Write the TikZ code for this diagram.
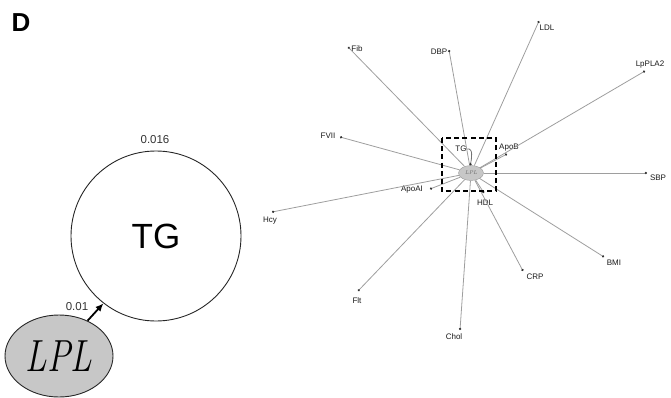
\documentclass[tikz,border=0pt]{standalone}
\usepackage{fontspec}
\newfontfamily\lsans{Liberation Sans}
\usetikzlibrary{shapes.geometric,arrows.meta}
\begin{document}
\begin{tikzpicture}[x=1pt,y=-1pt,
  edge/.style={draw=black!38, line width=0.8pt, -{Circle[length=2.2pt,color=black!80]}},
  lab/.style={font=\lsans\fontsize{8}{8}\selectfont, text=black!90, inner sep=0.5pt},
  bignum/.style={font=\lsans\fontsize{11.5}{12}\selectfont, text=black!80, inner sep=0pt}
]
\useasboundingbox (0,0) rectangle (671,398);
% panel letter
\node[font=\lsans\bfseries\fontsize{26}{26}\selectfont, inner sep=0pt] (D) at (21,23) {D};
% left: LPL -> TG
\node[circle, draw=black!85, line width=0.9pt, minimum size=170pt, inner sep=0pt,
      font=\lsans\fontsize{35}{35}\selectfont] (bigTG) at (156,236) {TG};
\node[ellipse, draw=black!85, line width=0.9pt, fill=black!22, minimum width=108pt,
      minimum height=82pt, inner sep=0pt] (bigLPL) at (59,356)
      {\scalebox{0.78}[1]{\fontsize{45}{45}\selectfont\itshape LPL}};
\draw[line width=1.8pt, -{Latex[length=8pt,width=7pt]}] (bigLPL.51) -- (bigTG.232);
\node[bignum] (n016) at (155,140) {0.016};
\node[bignum] (n01) at (77,307) {0.01};
% right: network
\node[ellipse, draw=black!40, fill=black!22, minimum width=25pt, minimum height=15pt,
      inner sep=0pt, font=\fontsize{5.5}{5.5}\selectfont\itshape, text=black!60] (lpl) at (471,173) {LPL};
\coordinate (eFib) at (348,47);    \node[lab] (Fib) at (357,49) {Fib};
\coordinate (eDBP) at (449,50);    \node[lab] (DBP) at (439,52) {DBP};
\coordinate (eLDL) at (539,21);    \node[lab] (LDL) at (547,28) {LDL};
\coordinate (eLp)  at (645,71);    \node[lab] (LpPLA2) at (650,65) {LpPLA2};
\coordinate (eSBP) at (647,173);   \node[lab] (SBP) at (658,178) {SBP};
\coordinate (eBMI) at (604,257);   \node[lab] (BMI) at (614,263) {BMI};
\coordinate (eCRP) at (523,271);   \node[lab] (CRP) at (535,277) {CRP};
\coordinate (eChol) at (460,330);  \node[lab] (Chol) at (454,337) {Chol};
\coordinate (eFlt) at (358,291);   \node[lab] (Flt) at (357,301) {Flt};
\coordinate (eHcy) at (272,212);   \node[lab] (Hcy) at (270,221) {Hcy};
\coordinate (eFVII) at (340,137);  \node[lab] (FVII) at (328,136) {FVII};
\coordinate (eApoAI) at (430,189); \node[lab] (ApoAI) at (412,190) {ApoAI};
\coordinate (eHDL) at (484,193);   \node[lab] (HDL) at (485,203) {HDL};
\coordinate (eApoB) at (507,154);  \node[lab] (ApoB) at (509,148) {ApoB};
\node[lab] (TG) at (461,149) {TG};
\foreach \e in {eFib,eDBP,eLDL,eLp,eSBP,eBMI,eCRP,eChol,eFlt,eHcy,eFVII,eApoAI,eHDL,eApoB}
  \draw[edge] (lpl) -- (\e);
\draw[edge, draw=black!55] (TG.east) to[out=10,in=80] (lpl.95);
\draw[line width=1.7pt, dash pattern=on 5pt off 3.2pt] (442,138) rectangle (496,191);
\end{tikzpicture}
\end{document}
